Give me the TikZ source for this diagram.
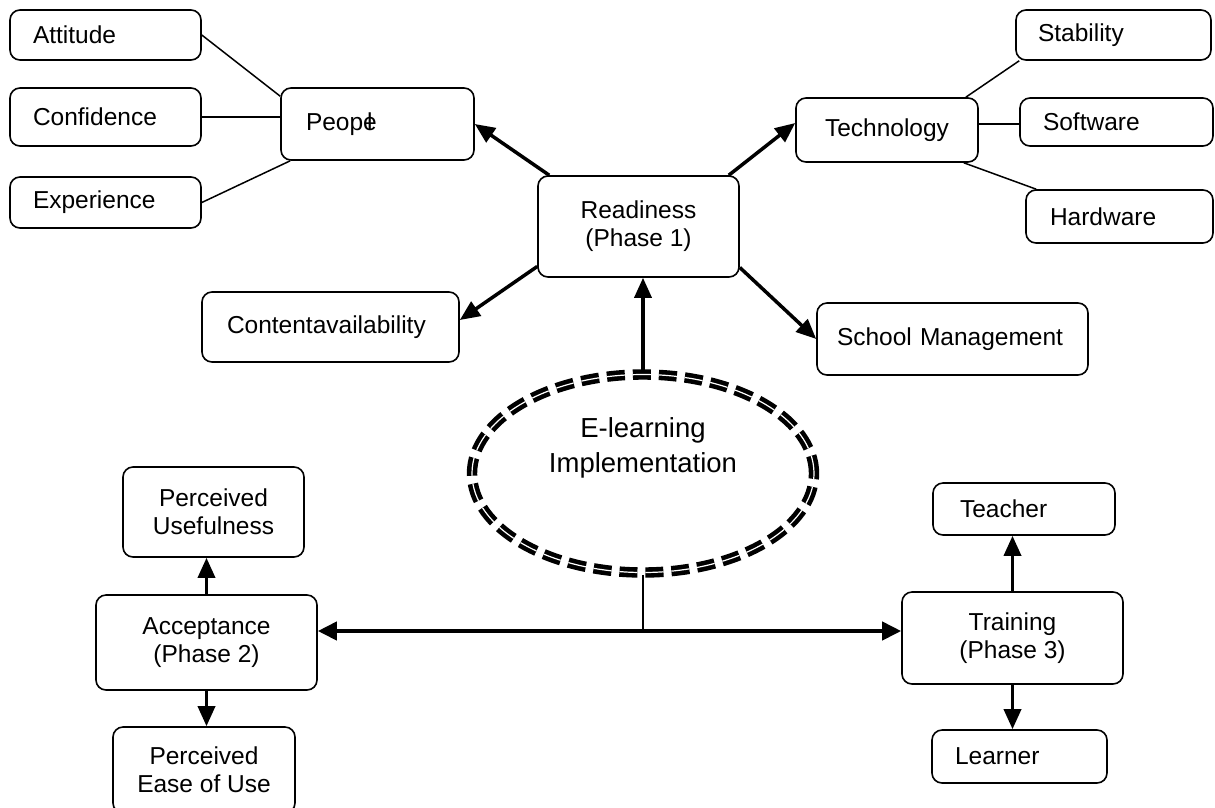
\documentclass[tikz,border=0pt]{standalone}
\usepackage{fontspec}
\setmainfont{Liberation Sans}
\usetikzlibrary{shapes.geometric}
\usetikzlibrary{arrows.meta}

\begin{document}
\begin{tikzpicture}[x=1pt,y=-1pt,
		box/.style={draw=black,line width=1.6pt,rounded corners=10pt,font=\fontsize{24.5}{28}\selectfont,inner sep=0pt},
		leaf/.style={box,align=left},
		phase/.style={box,align=center},
		link/.style={draw=black,line width=1.5pt},
		push/.style={draw=black,line width=3.5pt,-{Triangle[length=20pt,width=17pt]}},
		twoway/.style={draw=black,line width=4pt,{Triangle[length=19pt,width=18pt]}-{Triangle[length=19pt,width=18pt]}}]
		\useasboundingbox (0,0) rectangle (1215,807);
		
		\node[leaf,inner xsep=23pt,text width=145pt,minimum height=50pt] (attitude) at (105.5,35){Attitude};
		\node[leaf,inner xsep=23pt,text width=145pt,minimum height=58pt] (confid) at (105.5,117){Confidence};
		\node[leaf,inner xsep=23pt,text width=145pt,minimum height=51pt] (exper) at (105.5,202.5){Experience};
		\node[leaf,inner xsep=25pt,text width=143pt,minimum height=72pt] (people) at (377.5,124){Peop\rlap{\kern4pt l}e};
		
		\node[phase,minimum width=201pt,minimum height=101pt] (ready) at (638.5,226.5){Readiness\\(Phase 1)};
		\node[leaf,inner xsep=25pt,text width=207pt,minimum height=70pt] (content) at (330.5,327){Contentavailability};
		\node[leaf,inner xsep=20pt,text width=231pt,minimum height=72pt] (school) at (952.5,339){School~Management};
		
		\node[phase,minimum width=182pt,minimum height=64pt] (techno) at (887,130){Technology};
		\node[leaf,inner xsep=22pt,text width=151pt,minimum height=50pt] (stab) at (1113.5,35){Stability};
		\node[leaf,inner xsep=23pt,text width=147pt,minimum height=48pt] (soft) at (1116.5,122){Software};
		\node[leaf,inner xsep=24pt,text width=139pt,minimum height=53pt] (hard) at (1119.5,216.5){Hardware};
		
		\node[draw=black,ellipse,line width=4.6pt,double,double distance=1.2pt,dash pattern=on 18pt off 8pt,minimum width=342pt,minimum height=198pt] (elearn) at (643,473.5){};
		\node[font=\fontsize{27.5}{35}\selectfont,align=center] (elearntext) at ([yshift=26pt]elearn.center){E-learning\\Implementation};
		
		\node[phase,minimum width=181pt,minimum height=90pt] (perus) at (213.5,512){Perceived\\Usefulness};
		\node[phase,minimum width=221pt,minimum height=95pt] (accept) at (206.5,642.5){Acceptance\\(Phase 2)};
		\node[phase,minimum width=182pt,minimum height=86pt] (peou) at (204,770){Perceived\\Ease of Use};
		
		\node[phase,minimum width=221pt,minimum height=92pt] (train) at (1012.5,638){Training\\(Phase 3)};
		\node[leaf,inner xsep=27pt,text width=128pt,minimum height=52pt] (teacher) at (1024,509){Teacher};
		\node[leaf,inner xsep=23pt,text width=129pt,minimum height=53pt] (learner) at (1019.5,756.5){Learner};
		
		\draw[link] (attitude.east) -- ([yshift=-9pt]people.north west);
		\draw[link] (confid.east) -- (confid.east -| people.west);
		\draw[link] (exper.east) -- ([xshift=10pt]people.south west);
		\draw[link] ([xshift=-13pt]techno.north east) -- ([xshift=4pt]stab.south west);
		\draw[link] ([yshift=6pt]techno.east) -- ([yshift=6pt]techno.east -| soft.west);
		\draw[link] ([xshift=-15pt]techno.south east) -- ([xshift=11pt]hard.north west);
		
		\draw[push] ([xshift=12pt]ready.north west) -- (people.east);
		\draw[push] ([xshift=-11pt]ready.north east) -- ([yshift=7pt]techno.west);
		\draw[push] ([yshift=-40pt]ready.west) -- ([yshift=7pt]content.east);
		\draw[push] ([yshift=-41pt]ready.east) -- (school.west);
		\draw[push] (elearn.north) -- (elearn.north |- ready.south);
		
		\coordinate (junc) at (elearn.south |- 0,631);
		\draw[line width=2.5pt] (elearn.south) -- (junc);
		\draw[twoway] (accept.east |- junc) -- (train.west |- junc);
		
		\draw[push] (accept.north) -- (accept.north |- perus.south);
		\draw[push] (accept.south) -- (accept.south |- peou.north);
		\draw[push] (train.north) -- (train.north |- teacher.south);
		\draw[push] (train.south) -- (train.south |- learner.north);
	\end{tikzpicture}
\end{document}
